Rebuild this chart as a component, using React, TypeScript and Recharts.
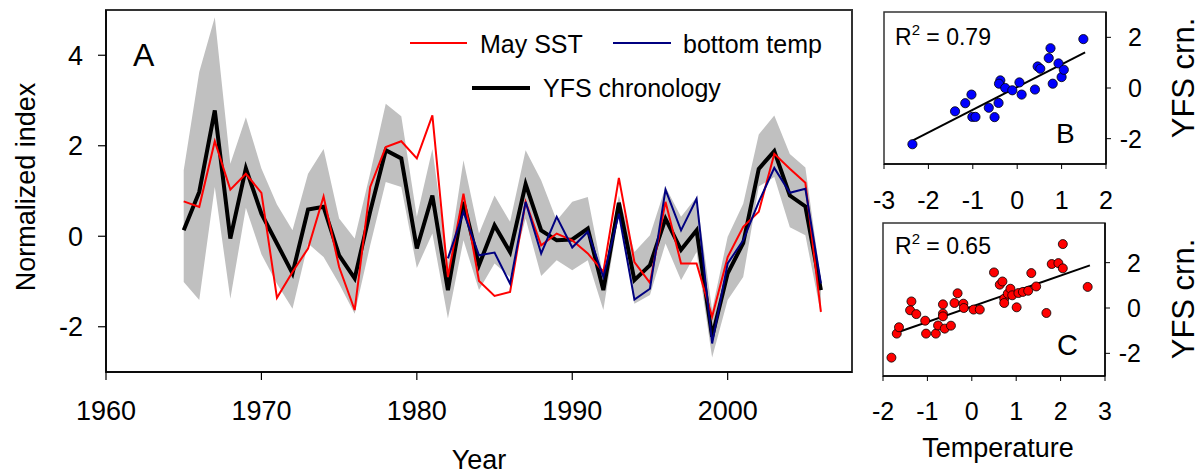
import React from 'react';
import {
  ComposedChart,
  ScatterChart,
  Area,
  Line,
  Scatter,
  XAxis,
  YAxis,
  ReferenceArea,
  ReferenceLine
} from 'recharts';

const FONT = '"Liberation Sans", Arial, Helvetica, sans-serif';

// Panel A: time series, 1965-2006
const years = [
  1965, 1966, 1967, 1968, 1969, 1970, 1971, 1972, 1973, 1974,
  1975, 1976, 1977, 1978, 1979, 1980, 1981, 1982, 1983, 1984,
  1985, 1986, 1987, 1988, 1989, 1990, 1991, 1992, 1993, 1994,
  1995, 1996, 1997, 1998, 1999, 2000, 2001, 2002, 2003, 2004,
  2005, 2006
];

const yfsChronology = [
  0.13, 0.98, 2.78, -0.05, 1.5, 0.5, -0.16, -0.82, 0.59, 0.65,
  -0.42, -0.93, 0.55, 1.9, 1.72, -0.27, 0.9, -1.19, 0.76, -0.64,
  0.24, -0.35, 1.15, 0.13, -0.09, -0.07, 0.17, -1.19, 0.74, -0.97,
  -0.64, 0.39, -0.3, 0.13, -2.22, -0.82, -0.15, 1.49, 1.88, 0.9,
  0.66, -1.19
];

const maySst = [
  0.77, 0.65, 2.1, 1.03, 1.38, 0.96, -1.36, -0.79, -0.27, 0.88,
  -0.68, -1.63, 1.09, 1.97, 2.1, 1.72, 2.67, -0.9, 0.94, -0.99,
  -1.32, -1.23, 0.76, -0.2, 0.06, -0.09, -0.38, -0.79, 1.29, -0.57,
  -1.03, 0.76, -0.6, -0.6, -1.78, -0.46, 0.21, 0.54, 1.82, 1.49,
  1.18, -1.67
];

// bottom temperature record starts in 1982
const bottomTempFrom = 1982;
const bottomTemp = [
  -0.49, 0.54, -0.42, -0.36, -1.05, 0.76, -0.38, 0.43, -0.25, 0.1,
  -0.9, 0.5, -1.4, -1.16, 1.03, 0.13, 0.83, -2.37, -0.6, -0.09,
  0.76, 1.51, 0.96, 1.05, -1.04
];

// grey confidence band around the chronology
const bandLow = [
  -1.01, -1.41, 1.09, -1.38, 0.63, -0.4, -1.05, -1.6, -0.16, -0.46,
  -1.05, -1.71, -0.2, 1.2, 1.09, -0.7, 0.06, -1.82, -0.09, -1.19,
  -0.6, -0.9, 0.39, -0.88, -0.53, -0.75, -0.53, -1.63, 0.5, -1.49,
  -1.3, -0.16, -0.97, -0.35, -2.68, -1.41, -0.9, 1.1, 1.31, 0.2,
  0.02, -1.72
];
const bandHigh = [
  1.46, 3.63, 4.84, 1.6, 2.63, 1.5, 0.7, 0.13, 1.38, 1.93,
  0.39, -0.05, 1.4, 2.93, 2.65, 0.43, 1.93, -0.6, 1.68, 0.06,
  0.9, 0.32, 1.9, 1.24, 0.35, 0.76, 0.87, -0.9, 0.9, -0.35,
  0.02, 1.09, 0.43, 0.87, -1.63, -0.01, 0.72, 2.25, 2.67, 1.82,
  1.52, -0.97
];

const yearTicks = [1960, 1970, 1980, 1990, 2000];
const indexTicks = [-2, 0, 2, 4];

// Panel B: bottom temp vs YFS chronology
const bTemp = [
  -2.36, -1.4, -1.17, -1.03, -1.01, -0.94, -0.64, -0.51, -0.42, -0.38,
  -0.41, -0.27, -0.11, 0.05, 0.1, 0.4, 0.46, 0.52, 0.71, 0.75,
  0.8, 0.93, 1.0, 1.05, 1.49
];
const bCrn = [
  -2.22, -0.92, -0.6, -0.26, -1.14, -1.14, -0.78, -1.15, -0.59, 0.3,
  0.17, 0.0, -0.09, 0.22, -0.26, -0.06, 0.85, 0.76, 1.18, 1.57,
  0.17, 0.97, 0.43, 0.72, 1.93
];
const bFitX = [-2.37, 1.53];
const bFitY = [-2.09, 1.41];

// Panel C: May SST vs YFS chronology
const cTemp = [
  -1.81, -1.69, -1.64, -1.36, -1.39, -1.25, -1.05, -1.03, -0.81, -0.76,
  -0.65, -0.65, -0.65, -0.61, -0.47, -0.39, -0.32, -0.19, -0.18, 0.04,
  0.18, 0.5, 0.63, 0.69, 0.73, 0.73, 0.81, 0.87, 0.91, 1.01,
  1.05, 1.15, 1.27, 1.34, 1.45, 1.68, 1.8, 1.95, 2.05, 2.05,
  2.61
];
const cCrn = [
  -2.19, -1.13, -0.85, 0.29, -0.1, -0.27, -0.56, -1.13, -1.13, -0.77,
  0.16, -0.25, -0.37, -0.91, -0.78, 0.22, 0.65, 0.19, 0.0, -0.07,
  -0.07, 1.57, 1.03, 1.17, 0.41, 0.22, 0.63, 0.85, 0.56, 0.03,
  0.66, 0.71, 0.76, 1.54, 0.95, -0.22, 1.94, 1.98, 1.75, 2.82,
  0.93
];
const cFitX = [-1.78, 2.66];
const cFitY = [-1.15, 1.88];

const tempTicksB = [-3, -2, -1, 0, 1, 2];
const tempTicksC = [-2, -1, 0, 1, 2, 3];
const crnTicks = [-2, 0, 2];

const seriesData = years.map((year, i) => ({
  year,
  yfs: yfsChronology[i],
  sst: maySst[i],
  bottom: year >= bottomTempFrom ? bottomTemp[year - bottomTempFrom] : null,
  band: [bandLow[i], bandHigh[i]]
}));

const bPoints = bTemp.map((x, i) => ({ x, y: bCrn[i] }));
const cPoints = cTemp.map((x, i) => ({ x, y: cCrn[i] }));

const RightTick = (props: any) => {
  const { x, y, payload } = props;
  return (
    <text x={x + 27} y={y} dy="0.355em" textAnchor="end" fontSize={25} fill="#000" fontFamily={FONT}>
      {payload.value}
    </text>
  );
};

const makeDot = (fill: string, r: number) => (props: any) => (
  <circle cx={props.cx} cy={props.cy} r={r} fill={fill} stroke="#000" strokeWidth={0.8} />
);

const App: React.FC = () => {
  return (
    <div
      style={{
        position: 'absolute',
        left: 0,
        top: 0,
        width: 1202,
        height: 476,
        background: '#fff',
        fontFamily: FONT,
        overflow: 'hidden'
      }}
    >
      {/* Panel A */}
      <div style={{ position: 'absolute', left: 0, top: 0 }}>
        <ComposedChart
          width={870}
          height={476}
          data={seriesData}
          margin={{ top: 10, right: 18, bottom: 74, left: 46 }}
        >
          <XAxis
            dataKey="year"
            type="number"
            domain={[1960, 2008]}
            ticks={yearTicks}
            allowDataOverflow
            height={30}
            tickSize={8}
            tickMargin={21}
            axisLine={{ stroke: '#000', strokeWidth: 1.5 }}
            tickLine={{ stroke: '#000', strokeWidth: 1.2 }}
            tick={{ fontSize: 27, fill: '#000', fontFamily: FONT }}
          />
          <YAxis
            type="number"
            domain={[-3, 5]}
            ticks={indexTicks}
            allowDataOverflow
            width={60}
            tickSize={8}
            tickMargin={15}
            axisLine={{ stroke: '#000', strokeWidth: 1.5 }}
            tickLine={{ stroke: '#000', strokeWidth: 1.2 }}
            tick={{ fontSize: 27, fill: '#000', fontFamily: FONT }}
          />
          <Area
            type="linear"
            dataKey="band"
            stroke="none"
            fill="#c0c0c0"
            fillOpacity={1}
            isAnimationActive={false}
          />
          <Line
            type="linear"
            dataKey="yfs"
            stroke="#000"
            strokeWidth={4}
            dot={false}
            isAnimationActive={false}
          />
          <Line
            type="linear"
            dataKey="sst"
            stroke="#ff0000"
            strokeWidth={2}
            dot={false}
            isAnimationActive={false}
          />
          <Line
            type="linear"
            dataKey="bottom"
            stroke="#000080"
            strokeWidth={2}
            dot={false}
            isAnimationActive={false}
          />
          <ReferenceArea
            x1={1960}
            x2={2008}
            y1={-3}
            y2={5}
            fill="none"
            stroke="#333"
            strokeWidth={2}
            ifOverflow="visible"
          />
        </ComposedChart>
      </div>

      {/* Panel B */}
      <div style={{ position: 'absolute', left: 840, top: 0 }}>
        <ScatterChart width={362} height={230} margin={{ top: 12, right: 56, bottom: 36, left: 44 }}>
          <XAxis
            type="number"
            dataKey="x"
            domain={[-3, 2]}
            ticks={tempTicksB}
            allowDataOverflow
            height={30}
            tickSize={5}
            tickMargin={22}
            axisLine={{ stroke: '#000', strokeWidth: 1.5 }}
            tickLine={{ stroke: '#000' }}
            tick={{ fontSize: 25, fill: '#000', fontFamily: FONT }}
          />
          <YAxis
            type="number"
            dataKey="y"
            orientation="right"
            domain={[-3, 3]}
            ticks={crnTicks}
            allowDataOverflow
            width={40}
            tickSize={5}
            tickMargin={4}
            axisLine={{ stroke: '#000', strokeWidth: 1.5 }}
            tickLine={{ stroke: '#000' }}
            tick={RightTick}
          />
          <ReferenceArea x1={-3} x2={2} y1={-3} y2={3} fill="none" stroke="#333" strokeWidth={1.5} ifOverflow="visible" />
          <ReferenceLine
            segment={[
              { x: bFitX[0], y: bFitY[0] },
              { x: bFitX[1], y: bFitY[1] }
            ]}
            stroke="#000"
            strokeWidth={2}
          />
          <Scatter data={bPoints} shape={makeDot('#0000ff', 4.6)} isAnimationActive={false} />
        </ScatterChart>
      </div>

      {/* Panel C */}
      <div style={{ position: 'absolute', left: 840, top: 215 }}>
        <ScatterChart width={362} height={261} margin={{ top: 8, right: 57, bottom: 70, left: 43 }}>
          <XAxis
            type="number"
            dataKey="x"
            domain={[-2, 3]}
            ticks={tempTicksC}
            allowDataOverflow
            height={30}
            tickSize={5}
            tickMargin={21}
            axisLine={{ stroke: '#000', strokeWidth: 1.5 }}
            tickLine={{ stroke: '#000' }}
            tick={{ fontSize: 25, fill: '#000', fontFamily: FONT }}
          />
          <YAxis
            type="number"
            dataKey="y"
            orientation="right"
            domain={[-3, 3.75]}
            ticks={crnTicks}
            allowDataOverflow
            width={40}
            tickSize={5}
            tickMargin={4}
            axisLine={{ stroke: '#000', strokeWidth: 1.5 }}
            tickLine={{ stroke: '#000' }}
            tick={RightTick}
          />
          <ReferenceArea x1={-2} x2={3} y1={-3} y2={3.75} fill="none" stroke="#333" strokeWidth={1.5} ifOverflow="visible" />
          <ReferenceLine
            segment={[
              { x: cFitX[0], y: cFitY[0] },
              { x: cFitX[1], y: cFitY[1] }
            ]}
            stroke="#000"
            strokeWidth={2}
          />
          <Scatter data={cPoints} shape={makeDot('#ff0000', 4.5)} isAnimationActive={false} />
        </ScatterChart>
      </div>

      {/* labels and legend */}
      <svg
        width={1202}
        height={476}
        style={{ position: 'absolute', left: 0, top: 0, pointerEvents: 'none' }}
        fontFamily={FONT}
        fill="#000"
      >
        <text transform="translate(35, 187) rotate(-90)" textAnchor="middle" fontSize={27}>
          Normalized index
        </text>
        <text x={479} y={469} textAnchor="middle" fontSize={27}>Year</text>
        <text x={133} y={66} fontSize={32}>A</text>

        <line x1={410} y1={43} x2={467} y2={43} stroke="#ff0000" strokeWidth={2} />
        <text x={480} y={53} fontSize={25}>May SST</text>
        <line x1={613} y1={43} x2={671} y2={43} stroke="#000080" strokeWidth={2} />
        <text x={683} y={53} fontSize={25}>bottom temp</text>
        <line x1={472} y1={88} x2={530} y2={88} stroke="#000" strokeWidth={4} />
        <text x={543} y={97} fontSize={25}>YFS chronology</text>

        <text x={895} y={45} fontSize={23}>
          R<tspan dy={-10} fontSize={15}>2</tspan>
          <tspan dy={10}> = 0.79</tspan>
        </text>
        <text x={1056} y={143} fontSize={28}>B</text>
        <text transform="translate(1194, 78) rotate(-90)" textAnchor="middle" fontSize={31}>YFS crn.</text>

        <text x={895} y={254} fontSize={23}>
          R<tspan dy={-10} fontSize={15}>2</tspan>
          <tspan dy={10}> = 0.65</tspan>
        </text>
        <text x={1057} y={355} fontSize={29}>C</text>
        <text transform="translate(1194, 299) rotate(-90)" textAnchor="middle" fontSize={31}>YFS crn.</text>
        <text x={998} y={457} textAnchor="middle" fontSize={27}>Temperature</text>
      </svg>
    </div>
  );
};

export default App;
